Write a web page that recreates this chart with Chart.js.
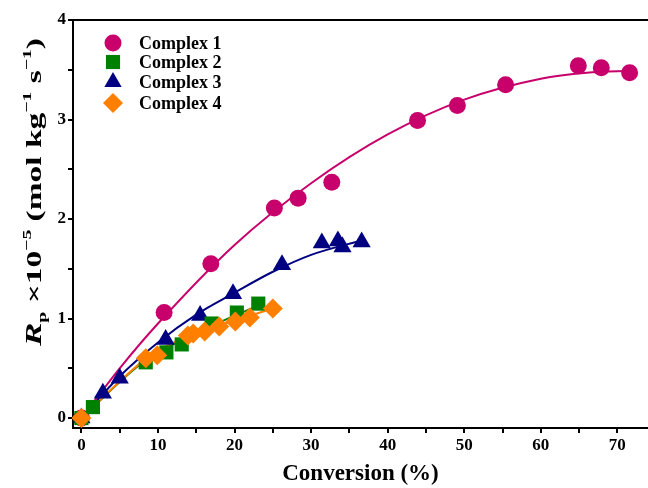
<!DOCTYPE html>
<html>
<head>
<meta charset="utf-8">
<script src="https://cdn.jsdelivr.net/npm/chart.js@4/dist/chart.umd.min.js"></script>
<style>
  html, body { margin: 0; padding: 0; background: #fff; }
  #chart { display: block; }
</style>
</head>
<body>
<canvas id="chart" width="648" height="488"></canvas>
<script>
// measured points (conversion %, Rp x10^-5)
const c1X = [0, 10.8, 16.9, 25.2, 28.3, 32.7, 43.9, 49.1, 55.4, 64.9, 67.9, 71.6];
const c1Y = [0, 1.06, 1.55, 2.11, 2.21, 2.37, 2.99, 3.14, 3.35, 3.54, 3.52, 3.47];
const c2X = [0, 1.5, 8.4, 11.1, 13.1, 17.0, 20.3, 23.1];
const c2Y = [0, 0.11, 0.56, 0.66, 0.74, 0.95, 1.06, 1.15];
const c3X = [0, 2.8, 5.0, 11.0, 15.5, 19.8, 26.2, 31.4, 33.5, 34.1, 36.6];
const c3Y = [0, 0.25, 0.40, 0.79, 1.03, 1.25, 1.54, 1.76, 1.78, 1.72, 1.77];
const c4X = [0, 8.4, 9.9, 13.9, 14.6, 16.1, 18.0, 20.1, 22.0, 25.0];
const c4Y = [0, 0.60, 0.63, 0.83, 0.85, 0.87, 0.92, 0.97, 1.01, 1.10];

// fitted curves
const fit1X = [0, 5, 10, 20, 30, 40, 50, 60, 66, 72];
const fit1Y = [0, 0.50, 0.95, 1.74, 2.36, 2.85, 3.20, 3.41, 3.47, 3.49];
const fit2X = [0, 8, 13, 18, 23.1];
const fit2Y = [0, 0.56, 0.78, 0.96, 1.13];
const fit3X = [0, 5, 10, 15, 20, 25, 30, 36.8];
const fit3Y = [0, 0.42, 0.76, 1.04, 1.26, 1.47, 1.64, 1.79];
const fit4X = [0, 8.5, 14, 20, 25];
const fit4Y = [0, 0.60, 0.83, 0.98, 1.10];

const names = ['Complex 1', 'Complex 2', 'Complex 3', 'Complex 4'];
const colors = ['#C8006B', '#008000', '#000080', '#FF8000'];
const styles = ['circle', 'rect', 'triangle', 'rectRot'];
const radii = [8.5, 10, 10.5, 10];

const xTicks = [0, 5, 10, 15, 20, 25, 30, 35, 40, 45, 50, 55, 60, 65, 70];
const yTicks = [0, 0.5, 1, 1.5, 2, 2.5, 3, 3.5, 4];

const serif = '"Liberation Serif", "Times New Roman", serif';

function pts(xs, ys) {
    return xs.map((x, i) => ({ x: x, y: ys[i] }));
}

function markerSet(i, xs, ys) {
    return {
        label: names[i],
        data: pts(xs, ys),
        showLine: false,
        pointStyle: styles[i],
        pointRadius: radii[i],
        backgroundColor: colors[i],
        borderColor: colors[i],
        borderWidth: 0,
        clip: false
    };
}

function fitSet(i, xs, ys) {
    return {
        label: names[i] + ' fit',
        data: pts(xs, ys),
        showLine: true,
        pointRadius: 0,
        borderColor: colors[i],
        borderWidth: 2,
        cubicInterpolationMode: 'monotone',
        fill: false
    };
}

function drawMarker(ctx, style, x, y, r, color) {
    ctx.fillStyle = color;
    ctx.beginPath();
    if (style === 'circle') {
        ctx.arc(x, y, r, 0, Math.PI * 2);
    } else if (style === 'rect') {
        const s = r * Math.SQRT1_2;
        ctx.rect(x - s, y - s, 2 * s, 2 * s);
    } else if (style === 'triangle') {
        ctx.moveTo(x, y - r);
        ctx.lineTo(x + r * Math.sin(Math.PI / 3), y + r / 2);
        ctx.lineTo(x - r * Math.sin(Math.PI / 3), y + r / 2);
        ctx.closePath();
    } else {
        ctx.moveTo(x, y - r);
        ctx.lineTo(x + r, y);
        ctx.lineTo(x, y + r);
        ctx.lineTo(x - r, y);
        ctx.closePath();
    }
    ctx.fill();
}

// top frame line, legend box and the y-axis title with sub/superscripts
const decorations = {
    id: 'decorations',
    afterDraw(chart) {
        const ctx = chart.ctx;
        const area = chart.chartArea;
        ctx.save();
        ctx.strokeStyle = '#000';
        ctx.lineWidth = 2;
        ctx.beginPath();
        ctx.moveTo(area.left - 1, area.top);
        ctx.lineTo(chart.width, area.top);
        ctx.stroke();

        // legend
        const rows = [43, 62, 82, 103];
        ctx.font = 'bold 18px ' + serif;
        ctx.textBaseline = 'middle';
        rows.forEach((ry, i) => {
            drawMarker(ctx, styles[i], 113, ry, i === 0 ? 8.5 : 10, colors[i]);
            ctx.fillStyle = '#000';
            ctx.fillText(names[i], 139, ry + 1);
        });

        // y title, a bit stretched along the text like the original
        const parts = [
            { t: 'R', f: 'italic bold 23px ' + serif, dy: 0 },
            { t: 'p', f: 'bold 13px ' + serif, dy: 5 },
            { t: ' \u00d710', f: 'bold 22px ' + serif, dy: 0 },
            { t: '\u22125', f: 'bold 13px ' + serif, dy: -10 },
            { t: ' (mol kg', f: 'bold 22px ' + serif, dy: 0 },
            { t: '\u22121', f: 'bold 13px ' + serif, dy: -10 },
            { t: ' s', f: 'bold 22px ' + serif, dy: 0 },
            { t: '\u22121', f: 'bold 13px ' + serif, dy: -10 },
            { t: ')', f: 'bold 22px ' + serif, dy: 0 }
        ];
        let total = 0;
        parts.forEach(p => { ctx.font = p.f; p.w = ctx.measureText(p.t).width; total += p.w; });
        const stretch = 308 / total;
        ctx.translate(41, 192);
        ctx.rotate(-Math.PI / 2);
        ctx.scale(stretch, 1);
        ctx.textBaseline = 'alphabetic';
        ctx.fillStyle = '#000';
        let u = -total / 2;
        parts.forEach(p => {
            ctx.font = p.f;
            ctx.fillText(p.t, u, p.dy);
            u += p.w;
        });
        ctx.restore();
    }
};

const ctx = document.getElementById('chart').getContext('2d');
new Chart(ctx, {
    type: 'scatter',
    data: {
        datasets: [
            markerSet(3, c4X, c4Y),
            markerSet(1, c2X, c2Y),
            markerSet(2, c3X, c3Y),
            markerSet(0, c1X, c1Y),
            fitSet(3, fit4X, fit4Y),
            fitSet(1, fit2X, fit2Y),
            fitSet(2, fit3X, fit3Y),
            fitSet(0, fit1X, fit1Y)
        ]
    },
    options: {
        responsive: false,
        animation: false,
        layout: { autoPadding: false, padding: { top: 20, right: 0, left: 0, bottom: 0 } },
        plugins: {
            legend: { display: false },
            tooltip: { enabled: false }
        },
        scales: {
            x: {
                type: 'linear',
                min: -1.1,
                max: 74,
                afterBuildTicks: scale => { scale.ticks = xTicks.map(v => ({ value: v })); },
                afterFit: scale => {
                    scale.height = 60;
                    scale.paddingLeft = 0;
                    scale.paddingRight = 0;
                },
                border: { display: true, color: '#000', width: 2 },
                grid: { drawOnChartArea: false, color: '#000', lineWidth: 2, tickLength: 5 },
                ticks: {
                    color: '#000',
                    padding: 2,
                    maxRotation: 0,
                    autoSkip: false,
                    font: { family: serif, size: 17, weight: 'bold' },
                    callback: v => (v % 10 === 0 ? String(v) : '')
                },
                title: {
                    display: true,
                    text: 'Conversion (%)',
                    color: '#000',
                    font: { family: serif, size: 23, weight: 'bold' },
                    padding: { top: 0, bottom: 0 }
                }
            },
            y: {
                type: 'linear',
                min: -0.1,
                max: 4,
                afterBuildTicks: scale => { scale.ticks = yTicks.map(v => ({ value: v })); },
                afterFit: scale => {
                    scale.width = 73;
                    scale.paddingTop = 0;
                    scale.paddingBottom = 0;
                },
                border: { display: true, color: '#000', width: 2 },
                grid: { drawOnChartArea: false, color: '#000', lineWidth: 2, tickLength: 5 },
                ticks: {
                    color: '#000',
                    padding: 2,
                    autoSkip: false,
                    font: { family: serif, size: 17, weight: 'bold' },
                    callback: v => (Number.isInteger(v) ? String(v) : '')
                }
            }
        }
    },
    plugins: [decorations]
});
</script>
</body>
</html>
